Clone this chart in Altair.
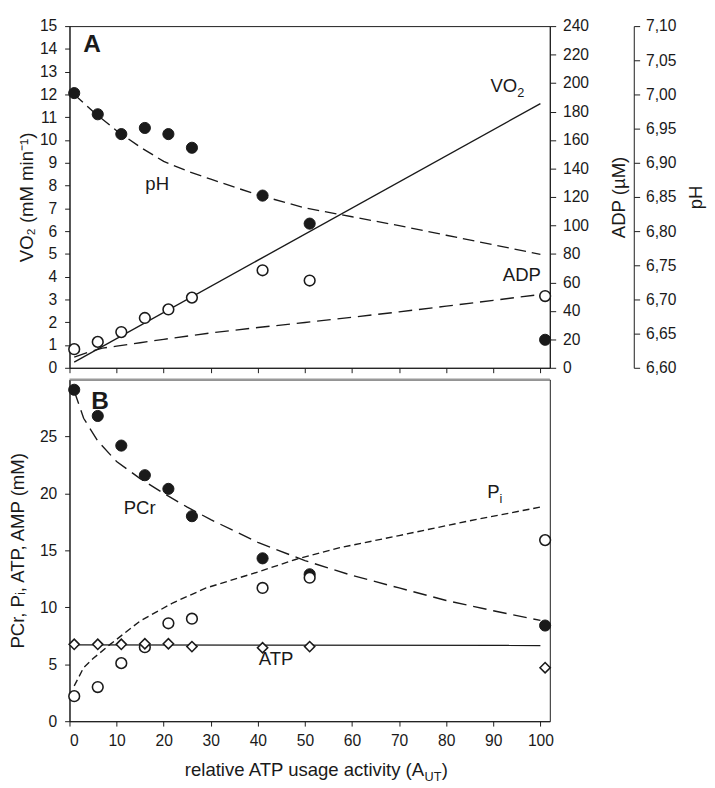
import altair as alt
import pandas as pd

# ---------------- data ----------------
# measured points, x = relative ATP usage activity
x_meas = [1, 6, 11, 16, 21, 26, 41, 51, 101]
ph_meas = [7.002, 6.971, 6.942, 6.951, 6.942, 6.922, 6.852, 6.811, 6.641]
adp_meas = [13.1, 18.2, 25.1, 35.0, 41.0, 49.3, 68.5, 61.3, 50.4]
pcr_meas = [29.1, 26.8, 24.2, 21.6, 20.4, 18.0, 14.3, 12.9, 8.4]
pi_meas = [2.2, 3.0, 5.1, 6.5, 8.6, 9.0, 11.7, 12.6, 15.9]
atp_meas = [6.75, 6.75, 6.75, 6.8, 6.8, 6.55, 6.45, 6.55, 4.7]

# simulated curves
vo2_x = [1, 100]
vo2_sim = [0.25, 11.6]
ph_x = [1, 5, 10, 15, 20, 25, 30, 40, 50, 60, 70, 80, 90, 100]
ph_sim = [7.000, 6.975, 6.947, 6.923, 6.902, 6.888, 6.876, 6.853, 6.834,
          6.821, 6.808, 6.794, 6.780, 6.766]
adp_x = [1, 4, 7, 10, 15, 20, 30, 40, 50, 60, 70, 80, 90, 100]
adp_sim = [7.5, 11.0, 13.8, 15.2, 17.6, 20.0, 24.5, 28.3, 31.8, 35.5, 39.3,
           43.3, 47.4, 51.5]
pcr_x = [1, 3, 6, 10, 15, 20, 25, 30, 40, 50, 60, 70, 80, 90, 100]
pcr_sim = [29.0, 26.6, 24.6, 22.8, 21.3, 20.0, 18.8, 17.7, 15.7, 14.1, 12.8,
           11.7, 10.6, 9.7, 8.85]
pi_x = [1, 3, 5, 8.5, 15, 22, 29, 40, 48, 57, 70, 85, 100]
pi_sim = [3.1, 4.7, 5.5, 6.7, 8.8, 10.4, 11.7, 13.1, 14.2, 15.2, 16.3, 17.6, 18.8]
atp_x = [1, 100]
atp_sim = [6.7, 6.65]

# tick values
x_ticks = [0, 10, 20, 30, 40, 50, 60, 70, 80, 90, 100]
vo2_ticks = list(range(0, 16))
adp_ticks = list(range(0, 241, 20))
ph_ticks = [6.60, 6.65, 6.70, 6.75, 6.80, 6.85, 6.90, 6.95, 7.00, 7.05, 7.10]
b_ticks = [0, 5, 10, 15, 20, 25]

# annotation texts (anchor in data units)
lab_A = {"t": ["A"], "x": [4.8], "y": [14.2]}
lab_vo2 = {"t": ["VO"], "x": [89.4], "y": [12.1]}
lab_adp = {"t": ["ADP"], "x": [100.1], "y": [61.3]}
lab_ph = {"t": ["pH"], "x": [16.1], "y": [6.86]}
lab_B = {"t": ["B"], "x": [6.5], "y": [28.1]}
lab_pcr = {"t": ["PCr"], "x": [11.5], "y": [18.2]}
lab_pi = {"t": ["P"], "x": [88.7], "y": [19.6]}
lab_atp = {"t": ["ATP"], "x": [40.2], "y": [4.94]}
xtitle = {"t": ["relative ATP usage activity (A"], "x": [75.3], "y": [-4.8]}

# ---------------- styling ----------------
FONT = "Liberation Sans"
INK = "#1a1a1a"
W, HA, HB = 492, 350, 350

sx = alt.Scale(domain=[0, 102], nice=False, zero=False)
xA = alt.X("x:Q", scale=sx, axis=alt.Axis(values=x_ticks, labels=False, title=None, tickSize=5))
xB = alt.X("x:Q", scale=sx, axis=alt.Axis(values=x_ticks, title=None, tickSize=5, labelPadding=7))

axV = alt.Axis(orient="left", values=vo2_ticks, title="VO₂ (mM min⁻¹)", titlePadding=3,
               labelPadding=8, tickSize=5)
axD = alt.Axis(orient="right", values=adp_ticks, title="ADP (µM)", titleAngle=270,
               titleBaseline="top", titlePadding=22, labelPadding=7, tickSize=6)
axP = alt.Axis(orient="right", offset=86, values=ph_ticks, title="pH", titleAngle=270,
               titleBaseline="top", titlePadding=11, labelPadding=6, tickSize=6,
               labelExpr="replace(format(datum.value, '.2f'), '.', ',')")
axB = alt.Axis(orient="left", values=b_ticks, title="PCr, Pᵢ, ATP, AMP (mM)", titlePadding=12,
               labelPadding=8, tickSize=5)

yV = alt.Y("y:Q", scale=alt.Scale(domain=[0, 15], nice=False, zero=False), axis=axV)
yD = alt.Y("y:Q", scale=alt.Scale(domain=[0, 240], nice=False, zero=False), axis=axD)
yP = alt.Y("y:Q", scale=alt.Scale(domain=[6.6, 7.1], nice=False, zero=False), axis=axP)
yB = alt.Y("y:Q", scale=alt.Scale(domain=[0, 30], nice=False, zero=False), axis=axB)


def df(x, y):
    return pd.DataFrame({"x": x, "y": y})


def line(x, y, xe, ye, dash=None):
    kw = {"color": INK, "strokeWidth": 1.4}
    if dash:
        kw["strokeDash"] = dash
    return alt.Chart(df(x, y)).mark_line(**kw).encode(x=xe, y=ye)


def pts(x, y, xe, ye, shape="circle", filled=True, size=125):
    if filled:
        m = alt.Chart(df(x, y)).mark_point(shape=shape, filled=True, fill=INK, stroke=INK,
                                           strokeWidth=1, size=size, opacity=1)
    else:
        m = alt.Chart(df(x, y)).mark_point(shape=shape, filled=True, fill="white", stroke=INK,
                                           strokeWidth=1.6, size=size, opacity=1)
    return m.encode(x=xe, y=ye)


def txt(d, xe, ye, size=19, weight="normal", align="left", baseline="alphabetic", dx=0, dy=0):
    return alt.Chart(pd.DataFrame(d)).mark_text(
        font=FONT, fontSize=size, fontWeight=weight, align=align, baseline=baseline,
        dx=dx, dy=dy, color=INK).encode(x=xe, y=ye, text="t:N")


sub2 = {"t": ["2"], "x": lab_vo2["x"], "y": lab_vo2["y"]}
subi = {"t": ["i"], "x": lab_pi["x"], "y": lab_pi["y"]}
subUT = {"t": ["UT"], "x": xtitle["x"], "y": xtitle["y"]}
paren = {"t": [")"], "x": xtitle["x"], "y": xtitle["y"]}

layV = alt.layer(
    line(vo2_x, vo2_sim, xA, yV),
    txt(lab_A, xA, yV, size=25, weight="bold", align="center", baseline="middle"),
    txt(lab_vo2, xA, yV),
    txt(sub2, xA, yV, size=13, dx=27.5, dy=5),
)
layD = alt.layer(
    line(adp_x, adp_sim, xA, yD, dash=[14, 7]),
    pts(x_meas, adp_meas, xA, yD, filled=False, size=120),
    txt(lab_adp, xA, yD, align="right"),
)
layP = alt.layer(
    line(ph_x, ph_sim, xA, yP, dash=[12, 6]),
    pts(x_meas, ph_meas, xA, yP, filled=True, size=130),
    txt(lab_ph, xA, yP),
)
panelA = alt.layer(layV, layD, layP).resolve_scale(y="independent").properties(width=W, height=HA)

topline = alt.Chart(pd.DataFrame({"y": [30]})).mark_rule(color="#9a9a9a", strokeWidth=2).encode(y=yB)

panelB = alt.layer(
    topline,
    line(pcr_x, pcr_sim, xB, yB, dash=[14, 7]),
    line(pi_x, pi_sim, xB, yB, dash=[7, 4]),
    line(atp_x, atp_sim, xB, yB),
    pts(x_meas, pcr_meas, xB, yB, filled=True, size=130),
    pts(x_meas, pi_meas, xB, yB, filled=False, size=120),
    pts(x_meas, atp_meas, xB, yB, shape="diamond", filled=False, size=110),
    txt(lab_B, xB, yB, size=25, weight="bold", align="center", baseline="middle"),
    txt(lab_pcr, xB, yB),
    txt(lab_pi, xB, yB),
    txt(subi, xB, yB, size=13, dx=12.7, dy=5),
    txt(lab_atp, xB, yB),
    txt(xtitle, xB, yB, align="right"),
    txt(subUT, xB, yB, size=13, dx=0.5, dy=5),
    txt(paren, xB, yB, dx=18),
).properties(width=W, height=HB)

chart = alt.vconcat(panelA, panelB, spacing=1).properties(
    padding={"left": 0, "top": 0, "right": 1, "bottom": 0}
).configure(font=FONT).configure_axis(
    labelFont=FONT, titleFont=FONT, labelFontSize=16, titleFontSize=19,
    titleFontWeight="normal", labelColor=INK, titleColor=INK, domainColor=INK,
    tickColor=INK, grid=False, domainWidth=1, tickWidth=1
).configure_view(stroke=INK, strokeWidth=1)

chart.save("out.html", embed_options={"renderer": "svg", "actions": False})
